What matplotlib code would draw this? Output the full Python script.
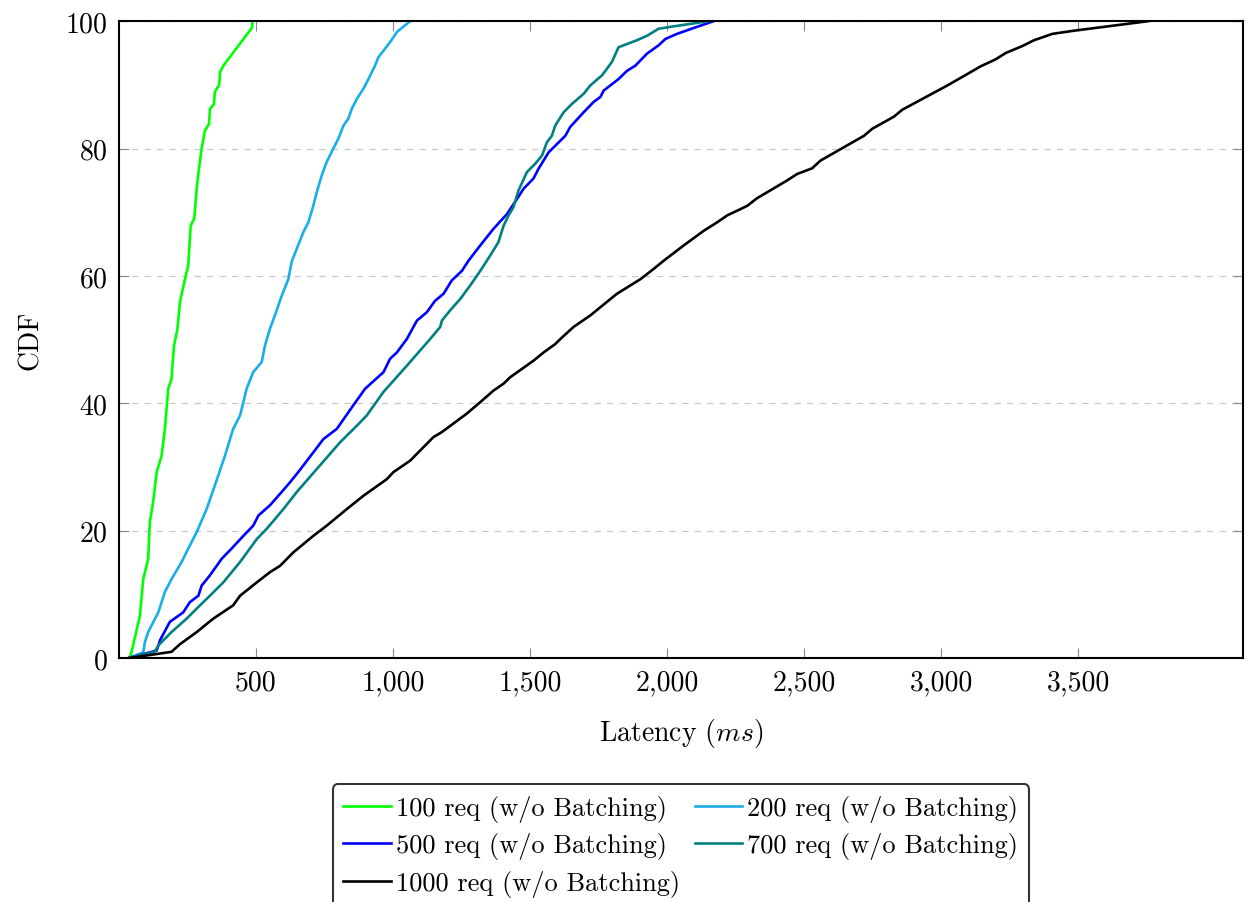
import matplotlib
matplotlib.use("Agg")
import matplotlib.pyplot as plt
from matplotlib.ticker import FuncFormatter

# ---------------- data (latency ms, CDF %) ----------------
lat_100 = [41, 53, 78, 90, 108, 114, 126, 139, 157, 169, 181, 193, 202, 214, 224, 242,
           254, 263, 276, 285, 293, 303, 315, 330, 333, 348, 351, 367, 370, 382, 487, 488]
cdf_100 = [0, 2, 6.7, 12.4, 15.6, 21.3, 24.5, 29.2, 31.8, 36, 42.3, 43.8, 49, 51.5, 55.9, 59.5,
           61.6, 67.9, 69, 73.7, 76.8, 80, 82.8, 83.9, 86.2, 87, 88.9, 90, 92, 93, 99, 100]

lat_200 = [35, 90, 96, 108, 145, 169, 193, 230, 254, 285, 321, 351, 388, 418, 443, 467, 491,
           522, 534, 552, 570, 595, 619, 631, 650, 674, 692, 710, 723, 741, 759, 783, 801,
           820, 838, 850, 869, 893, 911, 935, 947, 990, 1015, 1063]
cdf_200 = [0, 0.9, 2.5, 4.1, 7.2, 10.4, 12.4, 15.1, 17.2, 19.8, 23.4, 27.1, 31.8, 36, 38.1, 42.3, 44.9,
           46.5, 49.1, 51.7, 53.8, 56.9, 59.5, 62.2, 64.3, 66.9, 68.4, 71, 73.2, 75.8, 77.9, 80, 81.5,
           83.6, 84.7, 86.2, 87.8, 89.4, 90.9, 93, 94.3, 96.7, 98.3, 100]

lat_500 = [35, 139, 151, 187, 236, 260, 291, 303, 333, 376, 412, 455, 491, 510, 552, 595, 625,
           655, 710, 747, 796, 856, 899, 966, 990, 1015, 1051, 1088, 1124, 1154, 1185, 1215,
           1252, 1276, 1319, 1367, 1416, 1453, 1477, 1513, 1531, 1568, 1629, 1647, 1696, 1732,
           1757, 1769, 1823, 1854, 1884, 1927, 1969, 1994, 2036, 2109, 2170]
cdf_500 = [0, 1.2, 2.8, 5.7, 7.2, 8.8, 9.8, 11.4, 13, 15.6, 17.2, 19.2, 20.8, 22.4, 24, 26.1, 27.6,
           29.2, 32.3, 34.4, 36, 39.7, 42.3, 44.9, 47, 48, 50.1, 53, 54.3, 56.1, 57.2, 59.3,
           60.8, 62.4, 64.8, 67.4, 69.7, 72.1, 73.7, 75.3, 76.8, 79.4, 82, 83.4, 85.7, 87.3,
           88.1, 89.1, 90.9, 92.2, 93, 94.9, 96.2, 97.2, 98, 99.1, 100]

lat_700 = [35, 132, 145, 193, 248, 297, 333, 382, 443, 504, 540, 601, 650, 723, 808, 869, 905,
           966, 1051, 1136, 1173, 1179, 1209, 1246, 1282, 1319, 1355, 1385, 1404, 1422, 1440,
           1458, 1489, 1519, 1544, 1562, 1580, 1592, 1623, 1653, 1696, 1720, 1763, 1799, 1823,
           1890, 1927, 1969, 2012, 2152]
cdf_700 = [0, 1, 2, 4.1, 6.2, 8.3, 9.8, 11.9, 15.1, 18.7, 20.3, 23.4, 26.1, 29.7, 33.9, 36.5, 38.1,
           41.8, 45.9, 50.1, 52, 53, 54.6, 56.4, 58.5, 60.8, 63.2, 65.3, 67.9, 69.5, 70.8,
           73.4, 76.3, 77.6, 78.9, 81, 82, 83.6, 85.7, 87, 88.6, 89.9, 91.5, 93.6, 95.9,
           97, 97.7, 98.8, 99.1, 100]

lat_1000 = [35, 193, 224, 285, 345, 418, 443, 504, 552, 589, 637, 710, 759, 832, 893, 978, 1002,
            1063, 1148, 1179, 1270, 1319, 1367, 1404, 1428, 1513, 1550, 1592, 1611, 1659, 1720,
            1817, 1903, 1951, 1988, 2061, 2134, 2182, 2219, 2268, 2292, 2328, 2438, 2474, 2529,
            2559, 2718, 2748, 2827, 2858, 3022, 3095, 3143, 3198, 3235, 3296, 3338, 3405, 3484,
            3593, 3755]
cdf_1000 = [0, 1, 2.2, 4.1, 6.2, 8.3, 9.8, 11.9, 13.5, 14.5, 16.6, 19.2, 20.8, 23.4, 25.5, 28.1, 29.2,
            31, 34.7, 35.5, 38.4, 40.2, 42, 43.1, 44.1, 46.7, 48, 49.3, 50.1, 52, 53.8,
            57.2, 59.5, 61.1, 62.4, 64.8, 67.1, 68.4, 69.5, 70.5, 71, 72.2, 75, 76, 76.9,
            78.1, 82, 83.1, 85, 86.1, 89.9, 91.7, 92.9, 94, 95, 96.1, 97, 98, 98.5,
            99.1, 100]

labels = ["100 req (w/o Batching)", "200 req (w/o Batching)", "500 req (w/o Batching)",
          "700 req (w/o Batching)", "1000 req (w/o Batching)"]
x_ticks = [500, 1000, 1500, 2000, 2500, 3000, 3500]
y_ticks = [0, 20, 40, 60, 80, 100]

# ---------------- style ----------------
plt.rcParams["font.family"] = ["cmr10", "DejaVu Serif"]
plt.rcParams["mathtext.fontset"] = "cm"
plt.rcParams["axes.formatter.use_mathtext"] = True

colors = ["#00ff00", "#1aaee6", "#0000ff", "#008080", "#000000"]
series = [(lat_100, cdf_100), (lat_200, cdf_200), (lat_500, cdf_500),
          (lat_700, cdf_700), (lat_1000, cdf_1000)]

fig = plt.figure(figsize=(12.48, 9.03), dpi=100)
ax = fig.add_axes([0.095, 0.27, 0.901, 0.7055])

handles = []
for (x, y), c, lab in zip(series, colors, labels):
    h, = ax.plot(x, y, color=c, lw=1.9, label=lab, solid_joinstyle="round")
    handles.append(h)

ax.set_xlim(0, 4100)
ax.set_ylim(0, 100)
ax.set_xticks(x_ticks)
ax.set_yticks(y_ticks)
ax.xaxis.set_major_formatter(FuncFormatter(lambda v, p: f"{int(v):,}"))
ax.tick_params(axis="both", direction="in", length=7, width=0.8, color="#888888",
               labelsize=20, top=True, right=True, pad=8)
ax.grid(axis="y", linestyle=(0, (5, 5)), color="#c8c8c8", lw=0.9)
ax.set_axisbelow(True)
for s in ax.spines.values():
    s.set_linewidth(1.5)
    s.set_color("black")

ax.set_xlabel(r"Latency ($ms$)", fontsize=20, labelpad=15)
ax.set_ylabel("CDF", fontsize=20, labelpad=15)

# row-wise legend order (matplotlib fills column by column)
order = [0, 2, 4, 1, 3]
leg = ax.legend([handles[i] for i in order], [labels[i] for i in order],
                loc="upper center", bbox_to_anchor=(0.5, -0.198), ncol=2, fontsize=19,
                frameon=True, fancybox=True, edgecolor="black", handlelength=1.8,
                handletextpad=0.2, columnspacing=0.55, labelspacing=0.4, borderpad=0.4,
                borderaxespad=0)
leg.get_frame().set_linewidth(1.5)

fig.savefig("out.png", dpi=100)
